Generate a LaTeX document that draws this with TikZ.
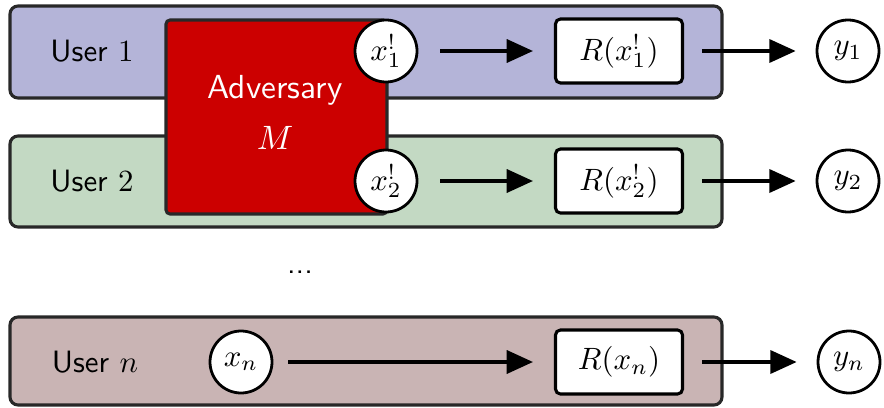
\documentclass[tikz,border=0pt]{standalone}
\usetikzlibrary{arrows.meta}
\definecolor{rowA}{RGB}{180,180,216}
\definecolor{rowB}{RGB}{195,217,195}
\definecolor{rowN}{RGB}{201,180,180}
\definecolor{advred}{RGB}{204,0,0}
\definecolor{edge}{RGB}{40,40,40}
\begin{document}
\begin{tikzpicture}[x=0.324pt,y=-0.324pt,font=\sffamily,
  rowbox/.style={draw=edge,line width=1pt,rounded corners=2.6pt,inner sep=0pt,
    minimum width=712*0.324pt},
  advbox/.style={draw=edge,line width=1pt,fill=advred,rounded corners=1.3pt,inner sep=0pt,
    minimum width=221*0.324pt,minimum height=194*0.324pt},
  valbox/.style={draw=black,line width=1pt,fill=white,rounded corners=1.6pt,inner sep=0pt,
    minimum width=127*0.324pt,minimum height=64*0.324pt},
  val/.style={circle,draw=black,line width=0.9pt,fill=white,inner sep=0pt,
    minimum size=62*0.324pt},
  arr/.style={line width=1pt,-{Triangle[length=8.5pt,width=7.5pt]}},
  lbl/.style={inner sep=0pt}]
\useasboundingbox (0,0) rectangle (884,408);

% user rows
\node[rowbox,fill=rowA,minimum height=92*0.324pt] (row1) at (366,52) {};
\node[rowbox,fill=rowB,minimum height=91*0.324pt] (row2) at (366,181.5) {};
\node[rowbox,fill=rowN,minimum height=88*0.324pt] (rown) at (366,361) {};

\node[lbl] (u1) at (92,51) {User $1$};
\node[lbl] (u2) at (92,181) {User $2$};
\node[lbl] (un) at (95,362) {User $n$};

% adversary
\node[advbox] (adv) at (276.5,117) {};
\node[lbl,text=white,font=\sffamily\fontsize{10.8pt}{13pt}\selectfont] (advname) at (275,90) {Adversary};
\node[lbl,text=white,font=\fontsize{10.8pt}{13pt}\selectfont] (advM) at (275,138) {$M$};

% inputs
\node[val] (x1) at (386,51) {$x^{!}_{1}$};
\node[val] (x2) at (386,181) {$x^{!}_{2}$};
\node[val] (xn) at (241,362) {$x_{n}$};

% randomized outputs
\node[valbox] (R1) at (619,51) {$R(x^{!}_{1})$};
\node[valbox] (R2) at (619,181) {$R(x^{!}_{2})$};
\node[valbox] (Rn) at (619,362) {$R(x_{n})$};

% results
\node[val] (y1) at (848,51) {$y_{1}$};
\node[val] (y2) at (848,181) {$y_{2}$};
\node[val] (yn) at (849,362) {$y_{n}$};

\node[lbl] (dots) at (300,272) {...};

% connectors
\draw[arr,shorten <=22*0.324pt,shorten >=21*0.324pt] (x1) -- (R1);
\draw[arr,shorten <=22*0.324pt,shorten >=21*0.324pt] (x2) -- (R2);
\draw[arr,shorten <=15*0.324pt,shorten >=21*0.324pt] (xn) -- (Rn);
\draw[arr,shorten <=18*0.324pt,shorten >=20*0.324pt] (R1) -- (y1);
\draw[arr,shorten <=18*0.324pt,shorten >=20*0.324pt] (R2) -- (y2);
\draw[arr,shorten <=18*0.324pt,shorten >=20*0.324pt] (Rn) -- (yn);
\end{tikzpicture}
\end{document}
